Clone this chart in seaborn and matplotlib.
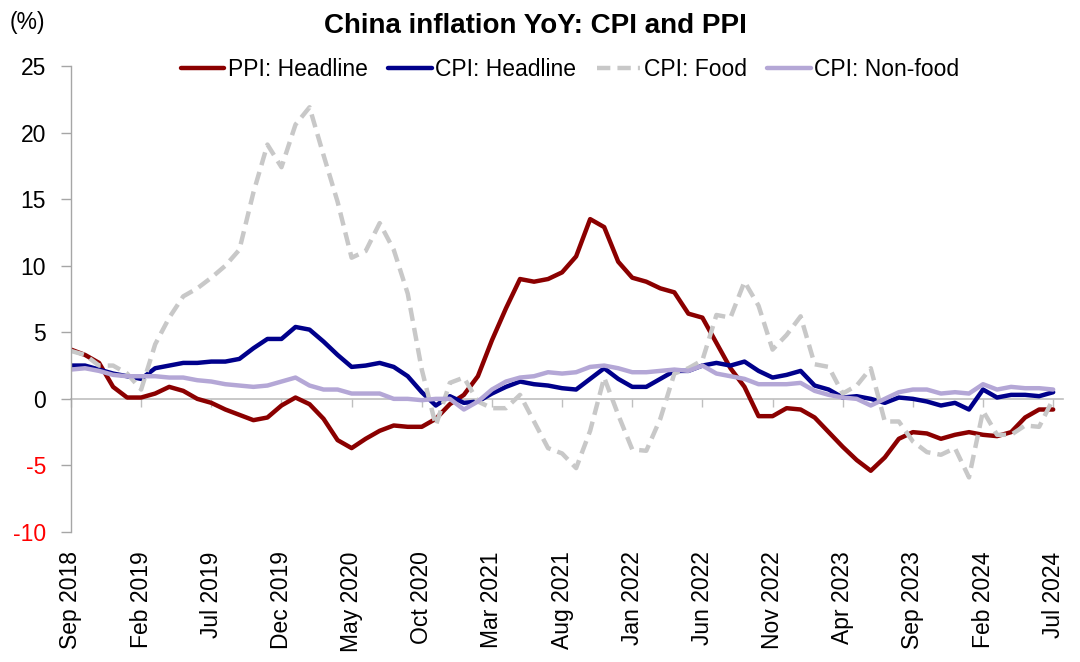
import numpy as np
import pandas as pd
import matplotlib
matplotlib.use("Agg")
import matplotlib.pyplot as plt
import seaborn as sns

# ---------------- data ----------------
months = pd.date_range("2018-09-01", "2024-07-01", freq="MS")

ppi_headline = [3.7, 3.3, 2.7, 0.9,
                0.1, 0.1, 0.4, 0.9, 0.6, 0.0, -0.3, -0.8, -1.2, -1.6, -1.4, -0.5,
                0.1, -0.4, -1.5, -3.1, -3.7, -3.0, -2.4, -2.0, -2.1, -2.1, -1.5, -0.4,
                0.3, 1.7, 4.4, 6.8, 9.0, 8.8, 9.0, 9.5, 10.7, 13.5, 12.9, 10.3,
                9.1, 8.8, 8.3, 8.0, 6.4, 6.1, 4.2, 2.3, 0.9, -1.3, -1.3, -0.7,
                -0.8, -1.4, -2.5, -3.6, -4.6, -5.4, -4.4, -3.0, -2.5, -2.6, -3.0, -2.7,
                -2.5, -2.7, -2.8, -2.5, -1.4, -0.8, -0.8]

cpi_headline = [2.5, 2.5, 2.2, 1.9,
                1.7, 1.5, 2.3, 2.5, 2.7, 2.7, 2.8, 2.8, 3.0, 3.8, 4.5, 4.5,
                5.4, 5.2, 4.3, 3.3, 2.4, 2.5, 2.7, 2.4, 1.7, 0.5, -0.5, 0.2,
                -0.3, -0.2, 0.4, 0.9, 1.3, 1.1, 1.0, 0.8, 0.7, 1.5, 2.3, 1.5,
                0.9, 0.9, 1.5, 2.1, 2.1, 2.5, 2.7, 2.5, 2.8, 2.1, 1.6, 1.8,
                2.1, 1.0, 0.7, 0.1, 0.2, 0.0, -0.3, 0.1, 0.0, -0.2, -0.5, -0.3,
                -0.8, 0.7, 0.1, 0.3, 0.3, 0.2, 0.5]

cpi_food = [3.6, 3.3, 2.5, 2.5,
            1.9, 0.7, 4.1, 6.1, 7.7, 8.3, 9.1, 10.0, 11.2, 15.5, 19.1, 17.4,
            20.6, 21.9, 18.3, 14.8, 10.6, 11.1, 13.2, 11.2, 7.9, 2.2, -2.0, 1.2,
            1.6, -0.2, -0.7, -0.7, 0.3, -1.7, -3.7, -4.1, -5.2, -2.4, 1.6, -1.2,
            -3.8, -3.9, -1.5, 1.9, 2.3, 2.9, 6.3, 6.1, 8.8, 7.0, 3.7, 4.8,
            6.2, 2.6, 2.4, 0.4, 1.0, 2.3, -1.7, -1.7, -3.2, -4.0, -4.2, -3.7,
            -5.9, -0.9, -2.7, -2.7, -2.0, -2.1, 0.0]

cpi_nonfood = [2.2, 2.3, 2.1, 1.8,
               1.7, 1.7, 1.7, 1.6, 1.6, 1.4, 1.3, 1.1, 1.0, 0.9, 1.0, 1.3,
               1.6, 1.0, 0.7, 0.7, 0.4, 0.4, 0.4, 0.0, 0.0, -0.1, 0.0, 0.0,
               -0.8, -0.2, 0.7, 1.3, 1.6, 1.7, 2.0, 1.9, 2.0, 2.4, 2.5, 2.3,
               2.0, 2.0, 2.1, 2.2, 2.1, 2.5, 1.9, 1.7, 1.5, 1.1, 1.1, 1.1,
               1.2, 0.6, 0.3, 0.1, 0.0, -0.5, 0.0, 0.5, 0.7, 0.7, 0.4, 0.5,
               0.4, 1.1, 0.7, 0.9, 0.8, 0.8, 0.7]

series_names = ["PPI: Headline", "CPI: Headline", "CPI: Food", "CPI: Non-food"]
tick_step = 5
y_ticks = [-10, -5, 0, 5, 10, 15, 20, 25]

# ---------------- styling ----------------
sns.set_theme(style="white")
plt.rcParams["font.family"] = ["Liberation Sans", "DejaVu Sans"]
plt.rcParams["text.color"] = "black"

colors = {"PPI: Headline": "#8B0000", "CPI: Headline": "#00008B",
          "CPI: Food": "#C8C8C8", "CPI: Non-food": "#B4A7D6"}

idx = np.arange(len(months))
df = pd.DataFrame({"t": idx,
                   "PPI: Headline": ppi_headline,
                   "CPI: Headline": cpi_headline,
                   "CPI: Food": cpi_food,
                   "CPI: Non-food": cpi_nonfood})

fig = plt.figure(figsize=(10.8, 6.62), dpi=100)
ax = fig.add_axes([71 / 1080, 1 - 532 / 662, (1063 - 71) / 1080, (532 - 66) / 662])

for name in series_names:
    sns.lineplot(data=df, x="t", y=name, ax=ax, color=colors[name], lw=3.2,
                 linestyle="--" if name == "CPI: Food" else "-",
                 dashes=False, label=name, legend=False)

ax.lines[2].set_dashes([3, 1.6])

ax.set_xlim(0, 70.7)
ax.set_ylim(-10, 25)
ax.set_xlabel("")
ax.set_ylabel("")

# y axis
ax.set_yticks(y_ticks)
ax.set_yticklabels([str(v) for v in y_ticks], fontsize=16.5)
ax.tick_params(axis="y", direction="out", length=7, width=1, color="#A6A6A6", pad=11,
               left=True, labelcolor="black")
for lab, v in zip(ax.get_yticklabels(), y_ticks):
    lab.set_color("#FF0000" if v < 0 else "black")
for s in ["top", "right"]:
    ax.spines[s].set_visible(False)
ax.spines["left"].set_color("#A6A6A6")
ax.spines["left"].set_linewidth(1)

# x axis line at zero with ticks
tick_pos = idx[::tick_step]
tick_labels = [m.strftime("%b %Y") for m in months[::tick_step]]
ax.spines["bottom"].set_position(("data", 0))
ax.spines["bottom"].set_color("#BFBFBF")
ax.spines["bottom"].set_linewidth(1.2)
ax.spines["bottom"].set_zorder(0.5)
ax.set_xticks(tick_pos)
ax.set_xticklabels([])
ax.tick_params(axis="x", direction="out", length=6, width=1, color="#BFBFBF", bottom=True)

sec = ax.secondary_xaxis(0)
sec.set_xticks(tick_pos)
sec.set_xticklabels(tick_labels, rotation=90, fontsize=16.5, color="black")
sec.tick_params(axis="x", length=0, pad=14)
sec.spines["bottom"].set_visible(False)

# legend, title, unit
handles, labels = ax.get_legend_handles_labels()
fig.legend(handles, labels, loc="center", bbox_to_anchor=(570 / 1080, 1 - 70 / 662),
           ncol=4, frameon=False, fontsize=16.5, handlelength=1.9, handletextpad=0.15,
           columnspacing=0.9, borderaxespad=0, labelcolor="black")
fig.text(535 / 1080, 1 - 26 / 662, "China inflation YoY: CPI and PPI", ha="center",
         va="center", fontsize=20, fontweight="bold", color="black")
fig.text(10 / 1080, 1 - 23 / 662, "(%)", ha="left", va="center", fontsize=16.5,
         color="black")

fig.savefig("out.png", dpi=100, facecolor="white")
